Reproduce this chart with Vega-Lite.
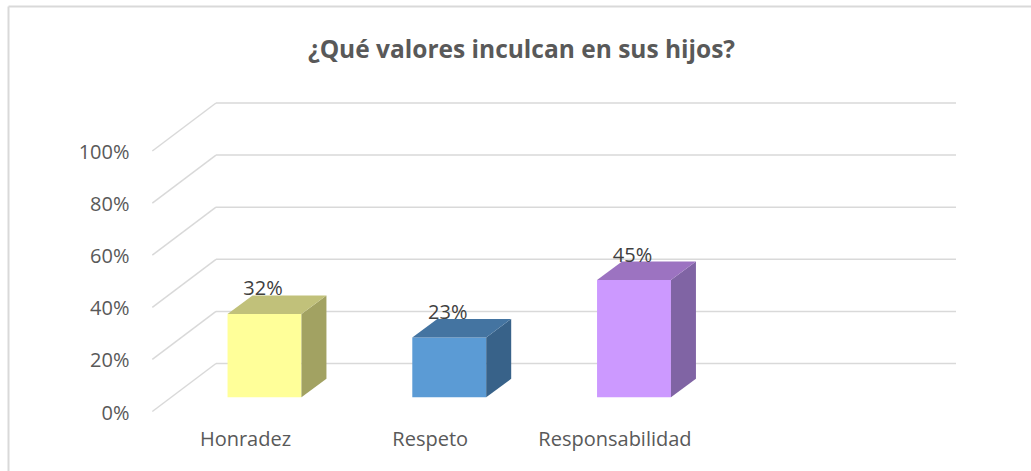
{
  "$schema": "https://vega.github.io/schema/vega-lite/v6.json",
  "width": 1023,
  "height": 465,
  "autosize": {"type": "none"},
  "padding": {"left": 8, "top": 6, "right": 0, "bottom": 0},
  "background": "white",
  "config": {"view": {"stroke": null}, "font": "Open Sans"},
  "title": {
    "text": "¿Qué valores inculcan en sus hijos?",
    "font": "Open Sans",
    "fontSize": 24.5,
    "fontWeight": "bold",
    "color": "#595959",
    "anchor": "middle",
    "frame": "group",
    "offset": -57,
    "dx": 2
  },
  "datasets": {
    "valores": [
      {"categoria": "Honradez", "valor": 32},
      {"categoria": "Respeto", "valor": 23},
      {"categoria": "Responsabilidad", "valor": 45}
    ],
    "escala": [
      {"v": 0}, {"v": 20}, {"v": 40}, {"v": 60}, {"v": 80}, {"v": 100}
    ]
  },
  "resolve": {"scale": {"color": "independent"}},
  "layer": [
    {
      "data": {"name": "escala"},
      "transform": [{"calculate": "datum.v + 18.43", "as": "vb"}],
      "mark": {"type": "rule", "color": "#d9d9d9", "strokeWidth": 1.5},
      "encoding": {
        "x": {
          "datum": -0.2625,
          "type": "quantitative",
          "scale": {"domain": [-1.38836, 4.14885], "nice": false, "zero": false},
          "axis": {"orient": "top", "domain": true, "domainColor": "#d9d9d9", "domainWidth": 2, "labels": false, "ticks": false, "grid": false, "title": null}
        },
        "x2": {"datum": 3.743},
        "y": {
          "field": "vb",
          "type": "quantitative",
          "scale": {"domain": [-22.84, 155.66], "nice": false, "zero": false},
          "axis": {
            "orient": "left",
            "title": null,
            "grid": false,
            "domain": true,
            "domainColor": "#d9d9d9",
            "domainWidth": 2,
            "ticks": false,
            "tickSize": 0,
            "values": [0, 20, 40, 60, 80, 100],
            "labelExpr": "datum.value + '%'",
            "labelPadding": -121,
            "labelAlign": "right",
            "labelBaseline": "middle",
            "labelOffset": 1.5,
            "labelFont": "Open Sans",
            "labelFontSize": 20,
            "labelColor": "#595959"
          }
        }
      }
    },
    {
      "data": {"name": "escala"},
      "transform": [{"calculate": "datum.v + 18.43", "as": "vb"}],
      "mark": {"type": "rule", "color": "#d9d9d9", "strokeWidth": 1.5},
      "encoding": {
        "x": {"datum": -0.6073, "type": "quantitative"},
        "x2": {"datum": -0.2625},
        "y": {"field": "v", "type": "quantitative"},
        "y2": {"field": "vb"}
      }
    },
    {
      "data": {"name": "valores"},
      "transform": [
        {"window": [{"op": "row_number", "as": "n"}]},
        {"calculate": "datum.n - 1", "as": "i"},
        {"calculate": "datum.i - 0.2", "as": "x0"},
        {"calculate": "datum.i + 0.2", "as": "x1"},
        {"calculate": "5.45", "as": "y0"},
        {"calculate": "5.45 + datum.valor", "as": "y1"}
      ],
      "mark": {"type": "rect"},
      "encoding": {
        "x": {"field": "x0", "type": "quantitative"},
        "x2": {"field": "x1"},
        "y": {"field": "y1", "type": "quantitative"},
        "y2": {"field": "y0"},
        "color": {
          "field": "categoria",
          "type": "nominal",
          "scale": {"domain": ["Honradez", "Respeto", "Responsabilidad"], "range": ["#FFFF99", "#5B9BD5", "#CC99FF"]},
          "legend": null
        }
      }
    },
    {
      "data": {"name": "valores"},
      "transform": [
        {"window": [{"op": "row_number", "as": "n"}]},
        {"calculate": "datum.n - 1", "as": "i"},
        {"calculate": "[0, 1]", "as": "k"},
        {"flatten": ["k"]},
        {"calculate": "datum.i + 0.2 + datum.k * 0.1353", "as": "sx"},
        {"calculate": "5.45 + datum.k * 7.1", "as": "sb"},
        {"calculate": "5.45 + datum.valor + datum.k * 7.1", "as": "st"}
      ],
      "mark": {"type": "area", "orient": "vertical"},
      "encoding": {
        "x": {"field": "sx", "type": "quantitative"},
        "y": {"field": "st", "type": "quantitative"},
        "y2": {"field": "sb"},
        "color": {
          "field": "categoria",
          "type": "nominal",
          "scale": {"domain": ["Honradez", "Respeto", "Responsabilidad"], "range": ["#A2A262", "#386289", "#8064A4"]},
          "legend": null
        }
      }
    },
    {
      "data": {"name": "valores"},
      "transform": [
        {"window": [{"op": "row_number", "as": "n"}]},
        {"calculate": "datum.n - 1", "as": "i"},
        {"calculate": "[0, 1]", "as": "k"},
        {"flatten": ["k"]},
        {"calculate": "datum.i - 0.2 + datum.k * 0.1353", "as": "tx0"},
        {"calculate": "datum.i + 0.2 + datum.k * 0.1353", "as": "tx1"},
        {"calculate": "5.45 + datum.valor + datum.k * 7.1", "as": "ty"}
      ],
      "mark": {"type": "area", "orient": "horizontal"},
      "encoding": {
        "y": {"field": "ty", "type": "quantitative"},
        "x": {"field": "tx0", "type": "quantitative"},
        "x2": {"field": "tx1"},
        "color": {
          "field": "categoria",
          "type": "nominal",
          "scale": {"domain": ["Honradez", "Respeto", "Responsabilidad"], "range": ["#C1C17A", "#4474A1", "#9C73C1"]},
          "legend": null
        }
      }
    },
    {
      "data": {"name": "valores"},
      "transform": [
        {"window": [{"op": "row_number", "as": "n"}]},
        {"calculate": "datum.n - 1", "as": "i"},
        {"calculate": "5.45 + datum.valor + 7.1", "as": "ly"},
        {"calculate": "datum.valor + '%'", "as": "etiqueta"}
      ],
      "mark": {"type": "text", "font": "Open Sans", "fontSize": 20, "color": "#404040", "baseline": "alphabetic", "align": "center", "dx": -1.5},
      "encoding": {
        "x": {"field": "i", "type": "quantitative"},
        "y": {"field": "ly", "type": "quantitative"},
        "text": {"field": "etiqueta"}
      }
    },
    {
      "data": {"name": "valores"},
      "transform": [
        {"window": [{"op": "row_number", "as": "n"}]},
        {"calculate": "datum.n - 1.103", "as": "cx"}
      ],
      "mark": {"type": "text", "font": "Open Sans", "fontSize": 20, "color": "#595959", "baseline": "alphabetic", "align": "center"},
      "encoding": {
        "x": {"field": "cx", "type": "quantitative"},
        "y": {"datum": -13.4, "type": "quantitative"},
        "text": {"field": "categoria"}
      }
    }
  ]
}
